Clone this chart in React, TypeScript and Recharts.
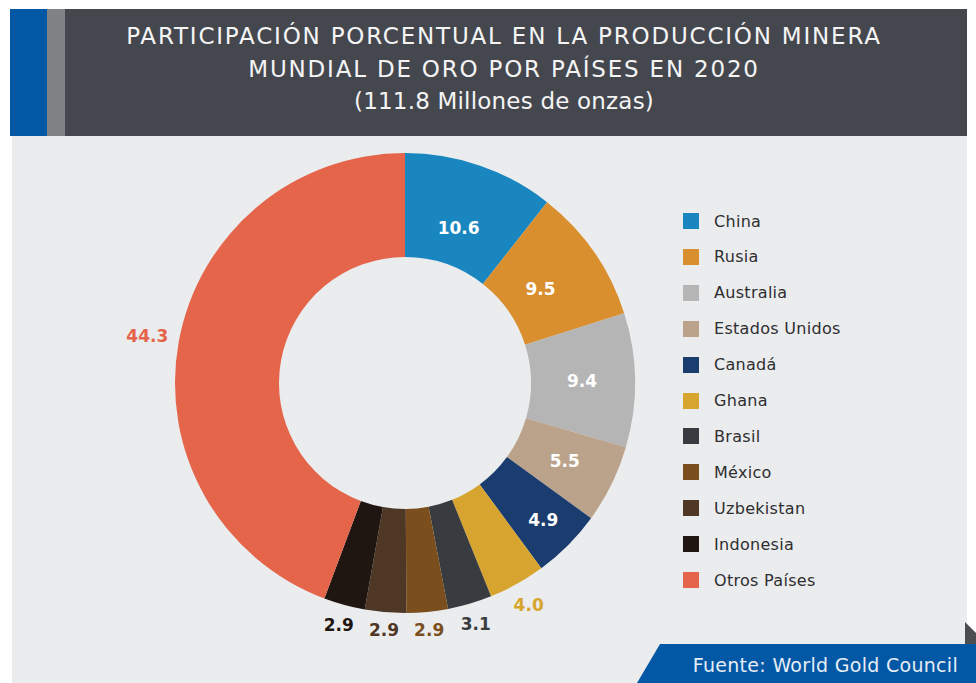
import React from "react";
import { PieChart, Pie, Cell, Legend } from "recharts";

const countries = [
  "China",
  "Rusia",
  "Australia",
  "Estados Unidos",
  "Canadá",
  "Ghana",
  "Brasil",
  "México",
  "Uzbekistan",
  "Indonesia",
  "Otros Países",
];
const shares = [10.6, 9.5, 9.4, 5.5, 4.9, 4.0, 3.1, 2.9, 2.9, 2.9, 44.3];
const sliceColors = [
  "#1a86c0",
  "#d98f2e",
  "#b4b5b4",
  "#bba38b",
  "#1b3c6e",
  "#d7a52f",
  "#383c40",
  "#7a4f1d",
  "#4e3724",
  "#1f1611",
  "#e5654a",
];
const titleLines = [
  "PARTICIPACIÓN PORCENTUAL EN LA PRODUCCIÓN MINERA",
  "MUNDIAL DE ORO POR PAÍSES EN 2020",
  "(111.8 Millones de onzas)",
];
const sourceText = "Fuente: World Gold Council";

// style: letter spacing per title line, inside label radii
const titleSpacing = [1.8, 1.8, 0.2];
const insideLabelRadius = [164, 165, 177, 178, 195];

const data = countries.map((name, i) => ({ name, value: shares[i] }));

const FONT = "'DejaVu Sans', sans-serif";
const RAD = Math.PI / 180;

const renderLabel = (props: any) => {
  const { cx, cy, midAngle, index, value } = props;
  const text = Number(value).toFixed(1);
  const cos = Math.cos(-midAngle * RAD);
  const sin = Math.sin(-midAngle * RAD);
  let r: number;
  let fill: string;
  if (index < insideLabelRadius.length) {
    r = insideLabelRadius[index];
    fill = "#ffffff";
  } else {
    const w = text.length * 10.5;
    const h = 14;
    r = 240 + Math.abs(cos) * (w / 2) + Math.abs(sin) * (h / 2);
    fill = sliceColors[index];
  }
  const x = cx + r * cos;
  const y = cy + r * sin;
  return (
    <text
      key={`lbl-${index}`}
      x={x}
      y={y}
      fill={fill}
      textAnchor="middle"
      dominantBaseline="central"
      fontFamily={FONT}
      fontWeight={700}
      fontSize={17}
    >
      {text}
    </text>
  );
};

const renderLegend = () => (
  <div style={{ fontFamily: FONT }}>
    {countries.map((name, i) => (
      <div
        key={name}
        style={{
          position: "absolute",
          left: 0,
          top: i * 35.9,
          height: 16,
          display: "flex",
          alignItems: "center",
          whiteSpace: "nowrap",
        }}
      >
        <div style={{ width: 16, height: 16, background: sliceColors[i] }} />
        <span style={{ marginLeft: 15, fontSize: 16, letterSpacing: 0.3, color: "#2e2e30" }}>{name}</span>
      </div>
    ))}
  </div>
);

export default function App() {
  return (
    <div
      style={{
        position: "absolute",
        left: 0,
        top: 0,
        width: 976,
        height: 683,
        background: "#ffffff",
        overflow: "hidden",
        fontFamily: FONT,
      }}
    >
      {/* panel */}
      <div style={{ position: "absolute", left: 12, top: 136, width: 955, height: 547, background: "#ebecee" }} />
      {/* header */}
      <div style={{ position: "absolute", left: 10, top: 9, width: 957, height: 127, background: "#45474f" }} />
      <div style={{ position: "absolute", left: 10, top: 9, width: 37, height: 127, background: "#0358a5" }} />
      <div style={{ position: "absolute", left: 47, top: 9, width: 18, height: 127, background: "#7f8386" }} />
      <div
        style={{
          position: "absolute",
          left: 41,
          top: 20,
          width: 926,
          textAlign: "center",
          color: "#f4f4f4",
          fontSize: 23,
          lineHeight: "32.5px",
        }}
      >
        {titleLines.map((t, i) => (
          <div key={t} style={{ letterSpacing: titleSpacing[i] }}>
            {t}
          </div>
        ))}
      </div>
      {/* footer decorations */}
      <svg style={{ position: "absolute", left: 0, top: 0 }} width={976} height={683}>
        <polygon points="965,622 976,633 976,644 965,644" fill="#4b4d51" />
        <polygon points="660,644 976,644 976,683 637,683" fill="#0358a5" />
        <text
          x={958}
          y={672}
          textAnchor="end"
          fill="#e6edf5"
          fontFamily={FONT}
          fontSize={19}
          letterSpacing={0.3}
        >
          {sourceText}
        </text>
      </svg>
      <div style={{ position: "absolute", left: 0, top: 0 }}>
        <PieChart width={976} height={683} margin={{ top: 0, right: 0, bottom: 0, left: 0 }}>
          <Pie
            data={data}
            dataKey="value"
            nameKey="name"
            cx={405}
            cy={383}
            innerRadius={126}
            outerRadius={230}
            startAngle={90}
            endAngle={-270}
            stroke="none"
            labelLine={false}
            label={renderLabel}
            isAnimationActive={false}
          >
            {data.map((d, i) => (
              <Cell key={d.name} fill={sliceColors[i]} />
            ))}
          </Pie>
          <Legend
            content={renderLegend}
            wrapperStyle={{ position: "absolute", left: 683, top: 213, width: 280, height: 400 }}
          />
        </PieChart>
      </div>
    </div>
  );
}
